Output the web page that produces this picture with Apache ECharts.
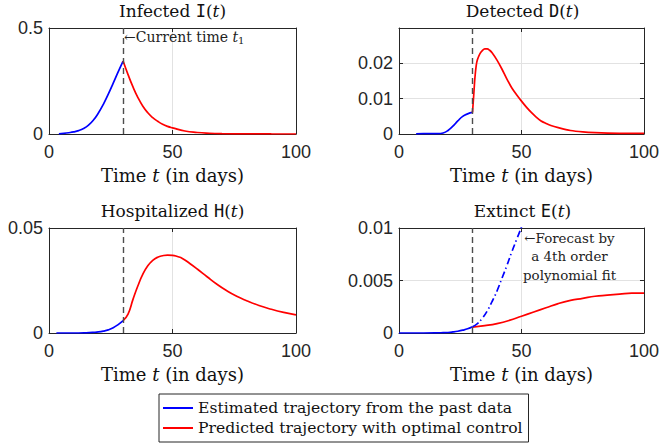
<!DOCTYPE html>
<html><head><meta charset="utf-8">
<script src="https://cdn.jsdelivr.net/npm/echarts/dist/echarts.min.js"></script>
<style>html,body{margin:0;padding:0;background:#fff}#c{width:662px;height:446px}</style>
</head><body><div id="c"></div><script>
// ---- data ----
const currentTime = 30;
const xTicks = [0, 50, 100];

const tI_est = [4,6,8,10,12,14,16,18,20,22,24,26,28,30];
const I_est  = [0.001,0.003,0.006,0.010,0.016,0.026,0.042,0.066,0.099,0.140,0.188,0.240,0.293,0.344];
const tI_pred = [30,32,34,36,38,40,42,44,46,48,50,55,60,65,70,80,90,100];
const I_pred  = [0.344,0.280,0.222,0.172,0.131,0.100,0.077,0.060,0.046,0.036,0.029,0.014,0.007,0.0035,0.0018,0.0005,0.0002,0.0001];

const tD_est = [7,10,13,16,18,20,22,24,26,28,30];
const D_est  = [0.00005,0.0001,0.0001,0.0001,0.0003,0.0010,0.0022,0.0037,0.0050,0.0057,0.0061];
const tD_pred = [30,30.5,31,31.5,32,33,34,35,36,37,38,40,42,44,46,48,50,52,54,56,58,60,62,65,70,75,80,90,100];
const D_pred  = [0.0061,0.0110,0.0160,0.0193,0.0210,0.0227,0.0236,0.0241,0.0241,0.0237,0.0230,0.0209,0.0184,0.0156,0.0131,0.0111,0.0093,0.0076,0.0061,0.0048,0.0037,0.0030,0.0024,0.0018,0.0010,0.0006,0.0004,0.0002,0.00015];

const tH_est = [3,8,12,15,18,20,22,24,26,28,30];
const H_est  = [0,0,0,0.0001,0.0003,0.0005,0.0009,0.0015,0.0025,0.0040,0.0059];
const tH_pred = [30,32,34,36,38,40,42,44,46,48,50,52,54,57,60,64,68,72,76,80,85,90,95,100];
const H_pred  = [0.0059,0.0090,0.0160,0.0225,0.0280,0.0320,0.0346,0.0361,0.0368,0.0371,0.0370,0.0364,0.0355,0.0331,0.0305,0.0268,0.0232,0.0201,0.0175,0.0154,0.0131,0.0113,0.0098,0.0086];

const tE_est = [0,5,10,15,18,20,22,24,26,28,30];
const E_est  = [0,0,0,0.00001,0.00003,0.00005,0.0001,0.00017,0.00027,0.0004,0.0006];
const tE_fc = [30,32,34,36,38,40,42,44,46,48,50,52];
const E_fc  = [0.0006,0.0009,0.0014,0.0021,0.0030,0.0040,0.0052,0.0064,0.0077,0.0089,0.0101,0.0115];
const tE_pred = [30,35,40,45,50,55,60,65,70,75,80,85,90,95,100];
const E_pred  = [0.00055,0.0007,0.0009,0.0012,0.0016,0.0020,0.0024,0.0028,0.0031,0.0033,0.0035,0.0036,0.0037,0.0038,0.0038];

const yMax = [0.5, 0.03, 0.05, 0.01];
const yInterval = [0.5, 0.01, 0.05, 0.005];
const yLabelHideAbove = [null, 0.025, null, null];

const titles = [['Infected ','I'],['Detected ','D'],['Hospitalized ','H'],['Extinct ','E']];
const EST = 'Estimated trajectory from the past data';
const PRED = 'Predicted trajectory with optimal control';

// ---- styling ----
const SERIF = "'DejaVu Serif','Liberation Serif',serif";
const SANS = "'Liberation Sans',Arial,sans-serif";
const MONO = "'DejaVu Sans Mono','Liberation Mono',monospace";
const AX = '#262626';
const GRIDC = '#e2e2e2';
const grids = [
  {left:49, top:28, width:247, height:106},
  {left:399, top:28, width:247, height:106},
  {left:49, top:228, width:247, height:105},
  {left:399, top:228, width:247, height:105}
];

function zip(t, v){ return t.map((x,i)=>[x, v[i]]); }

const xAxis = [], yAxis = [];
grids.forEach((g, i) => {
  xAxis.push({type:'value', gridIndex:i, min:0, max:100, interval:50, position:'bottom',
    axisLine:{show:true, onZero:false, lineStyle:{color:AX, width:1}},
    axisTick:{show:true, inside:true, length:4, lineStyle:{color:AX}},
    axisLabel:{show:true, margin:9, color:AX, fontFamily:SANS, fontSize:18, showMinLabel:true, showMaxLabel:true,
      formatter: v => xTicks.includes(v) ? String(v) : ''},
    splitLine:{show:true, lineStyle:{color:GRIDC, width:1}},
    name:'{n|Time }{i|t}{n| (in days)}', nameLocation:'middle', nameGap:32,
    nameTextStyle:{rich:{n:{fontFamily:SERIF, fontSize:18, color:'#111'}, i:{fontFamily:SERIF, fontSize:18, fontStyle:'italic', color:'#111'}}}
  });
  xAxis.push({type:'value', gridIndex:i, min:0, max:100, interval:50, position:'top',
    axisLine:{show:true, onZero:false, lineStyle:{color:AX, width:1}},
    axisTick:{show:true, inside:true, length:4, lineStyle:{color:AX}},
    axisLabel:{show:false}, splitLine:{show:false}});
  const hide = yLabelHideAbove[i];
  yAxis.push({type:'value', gridIndex:i, min:0, max:yMax[i], interval:yInterval[i], position:'left',
    axisLine:{show:true, onZero:false, lineStyle:{color:AX, width:1}},
    axisTick:{show:true, inside:true, length:4, lineStyle:{color:AX}},
    axisLabel:{show:true, margin:6, color:AX, fontFamily:SANS, fontSize:18, showMinLabel:true, showMaxLabel:true,
      formatter: v => (hide !== null && v > hide) ? '' : String(+v.toFixed(4))},
    splitLine:{show:true, lineStyle:{color:GRIDC, width:1}}});
  yAxis.push({type:'value', gridIndex:i, min:0, max:yMax[i], interval:yInterval[i], position:'right',
    axisLine:{show:true, onZero:false, lineStyle:{color:AX, width:1}},
    axisTick:{show:true, inside:true, length:4, lineStyle:{color:AX}},
    axisLabel:{show:false}, splitLine:{show:false}});
});

const markLine = {silent:true, symbol:'none', label:{show:false},
  lineStyle:{color:'#4d4d4d', type:[6,4], width:1.4}, data:[{xAxis: currentTime}]};

function line(name, gi, data, color, extra){
  return Object.assign({type:'line', name, xAxisIndex:gi*2, yAxisIndex:gi*2, data,
    symbol:'none', smooth:0.5, clip:true, silent:true, animation:false,
    lineStyle:{color, width:1.7}, itemStyle:{color}}, extra||{});
}

const series = [
  line(EST, 0, zip(tI_est, I_est), '#0000ff'),
  line(PRED, 0, zip(tI_pred, I_pred), '#ff0000', {markLine}),
  line(EST, 1, zip(tD_est, D_est), '#0000ff'),
  line(PRED, 1, zip(tD_pred, D_pred), '#ff0000', {markLine, smooth:0.3}),
  line(EST, 2, zip(tH_est, H_est), '#0000ff'),
  line(PRED, 2, zip(tH_pred, H_pred), '#ff0000', {markLine}),
  line(EST, 3, zip(tE_est, E_est), '#0000ff'),
  line(PRED, 3, zip(tE_pred, E_pred), '#ff0000', {markLine}),
  line('Forecast', 3, zip(tE_fc, E_fc), '#0000ff', {lineStyle:{color:'#0000ff', width:1.7, type:[7,3,1.5,3]}})
];

const titleRich = {
  a:{fontFamily:SERIF, fontSize:17, color:'#111', fontWeight:'normal'},
  m:{fontFamily:MONO, fontSize:17, color:'#111', fontWeight:'normal'},
  i:{fontFamily:SERIF, fontSize:17, color:'#111', fontStyle:'italic', fontWeight:'normal'}
};
const title = titles.map((tt, i) => ({
  text:'{a|' + tt[0] + '}{m|' + tt[1] + '}{a|(}{i|t}{a|)}',
  left: grids[i].left + grids[i].width/2, top: grids[i].top - 26, textAlign:'center', padding:0,
  textStyle:{rich:titleRich}
}));

const chart = echarts.init(document.getElementById('c'), null, {renderer:'svg'});
chart.setOption({
  animation:false, backgroundColor:'#fff',
  title, grid: grids.map(g => Object.assign({containLabel:false}, g)),
  xAxis, yAxis, series,
  legend:{orient:'vertical', left:159, top:394, data:[EST, PRED], selectedMode:false, icon:'rect',
    borderColor:AX, borderWidth:1, padding:[4,6,4,4], itemGap:0, itemWidth:30, itemHeight:2,
    backgroundColor:'#fff',
    textStyle:{fontFamily:SERIF, fontSize:15.6, color:'#111', lineHeight:20}}
});

// annotations placed through the axes' own scales
const p1 = chart.convertToPixel({xAxisIndex:0, yAxisIndex:0}, [currentTime, 0.458]);
const p2 = chart.convertToPixel({xAxisIndex:6, yAxisIndex:6}, [69.6, 0.0099]);
chart.setOption({graphic:[
  {type:'text', x:p1[0]+1, y:p1[1], silent:true,
    style:{text:'{r|←Current time }{i|t}{s|1}', verticalAlign:'middle', align:'left',
      rich:{r:{fontFamily:SERIF, fontSize:14, fill:'#222'}, i:{fontFamily:SERIF, fontSize:14, fontStyle:'italic', fill:'#222'},
            s:{fontFamily:SERIF, fontSize:10, fill:'#222', padding:[7,0,0,0]}}}},
  {type:'text', x:p2[0], y:p2[1], silent:true,
    style:{text:'←Forecast by\na 4th order\npolynomial fit', align:'center', verticalAlign:'top',
      fontFamily:SERIF, fontSize:13.4, lineHeight:18.5, fill:'#222'}}
]});
</script></body></html>
